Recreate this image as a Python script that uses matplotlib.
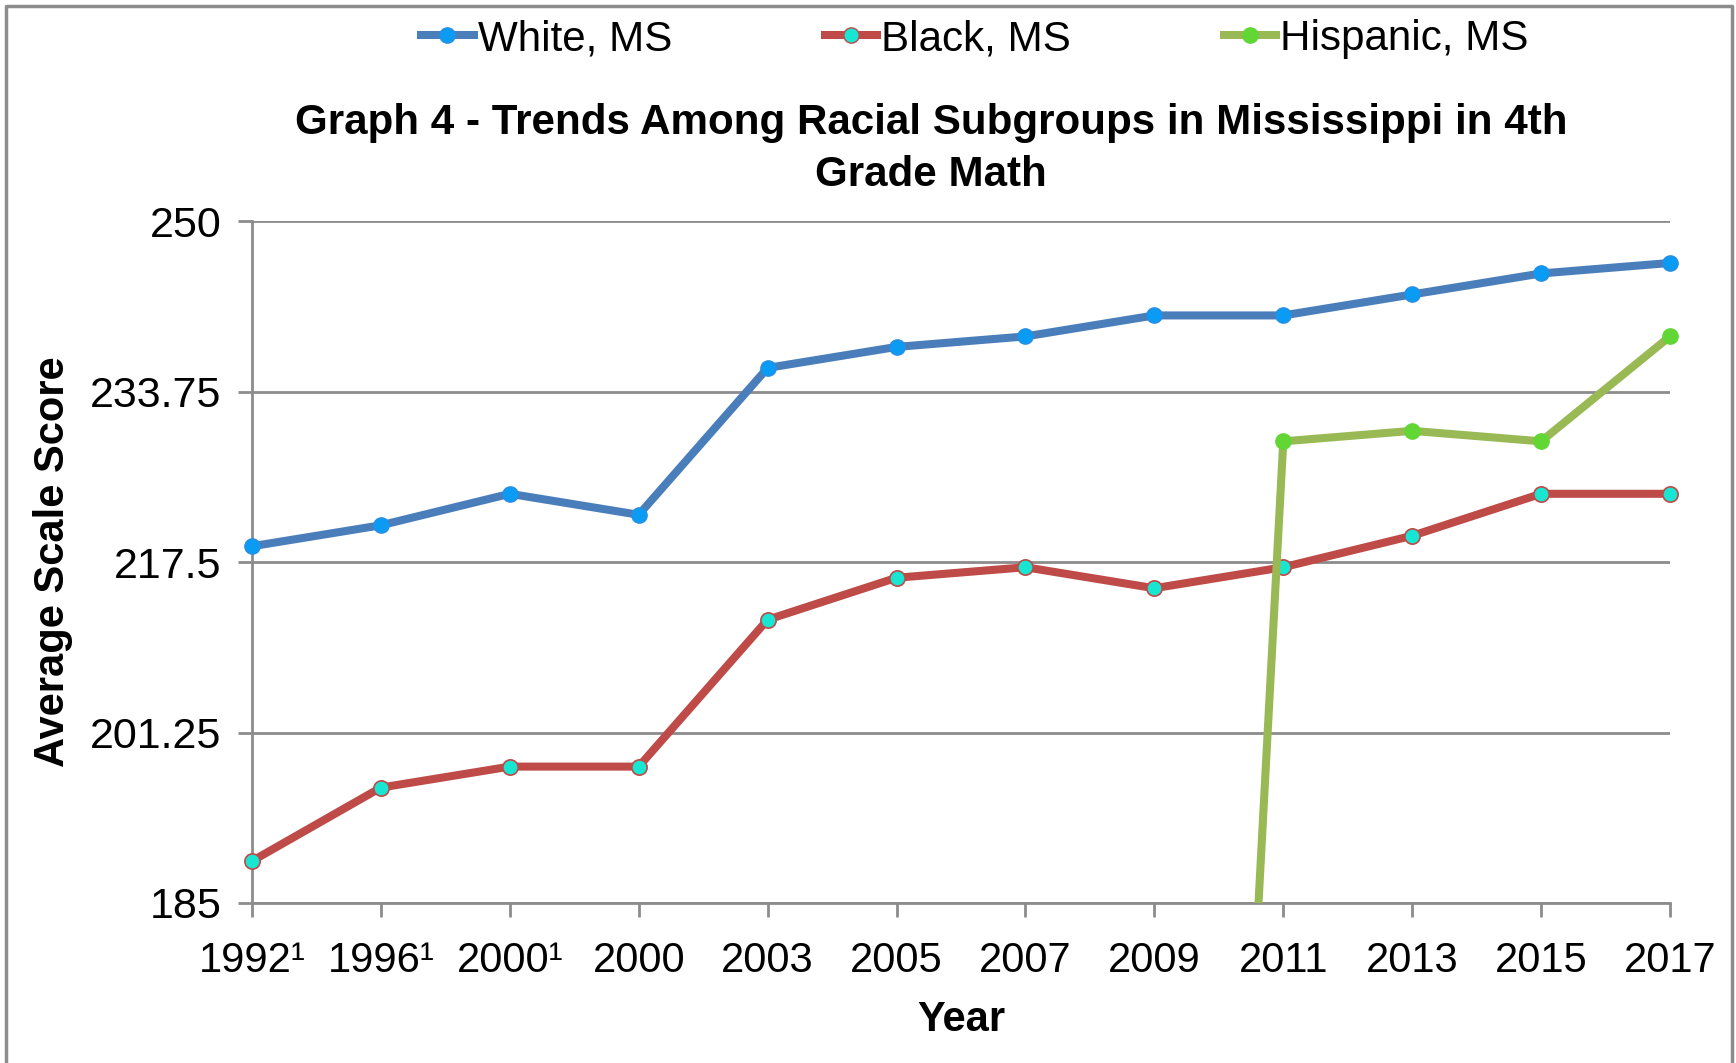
import matplotlib
matplotlib.use("Agg")
import matplotlib.pyplot as plt
from matplotlib.lines import Line2D

plt.rcParams["font.family"] = ["Liberation Sans", "DejaVu Sans"]

# data
years = ["1992¹", "1996¹", "2000¹", "2000", "2003", "2005",
         "2007", "2009", "2011", "2013", "2015", "2017"]
white_ms = [219, 221, 224, 222, 236, 238, 239, 241, 241, 243, 245, 246]
black_ms = [189, 196, 198, 198, 212, 216, 217, 215, 217, 220, 224, 224]
# no reported Hispanic value before 2011 (zero in the source sheet)
hispanic_ms = [0, 0, 0, 0, 0, 0, 0, 0, 229, 230, 229, 239]
y_ticks = [185, 201.25, 217.5, 233.75, 250]
y_tick_labels = ["185", "201.25", "217.5", "233.75", "250"]

W, H = 1736, 1063
fig = plt.figure(figsize=(W / 100, H / 100), dpi=100)
ax = fig.add_axes([252 / W, 1 - 903 / H, (1670 - 252) / W, (903 - 221) / H])

grey = "#8c8c8c"
lw, ms = 5.8, 11
x = list(range(len(years)))

ax.plot(x, white_ms, color="#4a7ebb", lw=lw, marker="o", ms=ms,
        mfc="#0a9cf5", mec="#2a8ee0", mew=1, zorder=3, clip_on=False)
ax.plot(x, black_ms, color="#be4b48", lw=lw, marker="o", ms=ms,
        mfc="#18e6d2", mec="#be4b48", mew=1.2, zorder=3, clip_on=False)
# line is clipped at the axis; markers only where a score exists
ax.plot(x, hispanic_ms, color="#98b954", lw=lw, zorder=4)
hx = [i for i, v in zip(x, hispanic_ms) if v > 0]
hy = [v for v in hispanic_ms if v > 0]
ax.plot(hx, hy, ls="none", marker="o", ms=ms, mfc="#62d634", mec="#62d634",
        zorder=5, clip_on=False)

ax.set_xlim(0, len(years) - 1)
ax.set_ylim(185, 250)
ax.set_xticks(x)
ax.set_xticklabels(years, fontsize=30)
ax.set_yticks(y_ticks)
ax.set_yticklabels(y_tick_labels, fontsize=31)

ax.grid(axis="y", color=grey, lw=2)
ax.set_axisbelow(True)
for s in ["top", "right"]:
    ax.spines[s].set_visible(False)
for s in ["left", "bottom"]:
    ax.spines[s].set_color(grey)
    ax.spines[s].set_linewidth(2)
ax.tick_params(axis="both", color=grey, width=2, length=10, direction="out")
ax.tick_params(axis="x", pad=17)
ax.tick_params(axis="y", pad=12)

ax.set_xlabel("Year", fontsize=30, fontweight="bold", labelpad=14)
ax.set_ylabel("Average Scale Score", fontsize=30, fontweight="bold", labelpad=12)

fig.text(931 / W, 1 - 149 / H,
         "Graph 4 - Trends Among Racial Subgroups in Mississippi in 4th\nGrade Math",
         ha="center", va="center", fontsize=30.3, fontweight="bold", linespacing=1.36)

handles = [
    Line2D([], [], color="#4a7ebb", lw=lw, marker="o", ms=ms, mfc="#0a9cf5", mec="#2a8ee0"),
    Line2D([], [], color="#be4b48", lw=lw, marker="o", ms=ms, mfc="#18e6d2", mec="#be4b48"),
    Line2D([], [], color="#98b954", lw=lw, marker="o", ms=ms, mfc="#62d634", mec="#62d634"),
]
fig.legend(handles, ["White, MS", "Black, MS", "Hispanic, MS"], ncol=3,
           loc="center", bbox_to_anchor=(975 / W, 1 - 39 / H), frameon=False,
           fontsize=30.3, handlelength=1.25, handletextpad=0.1, columnspacing=3.62,
           borderpad=0)

# outer chart border (open at the bottom)
fig.add_artist(Line2D([6 / W, 6 / W, 1732 / W, 1732 / W],
                      [0, 1 - 6 / H, 1 - 6 / H, 0],
                      transform=fig.transFigure, color=grey, lw=2.5))

fig.savefig("out.png", dpi=100)
